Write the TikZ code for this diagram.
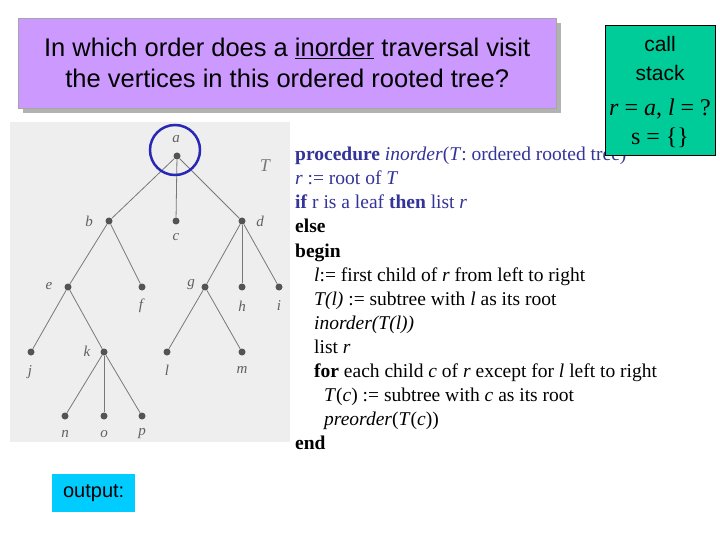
\documentclass[tikz,border=0pt]{standalone}
\usepackage{fontspec}
\setmainfont{Liberation Serif}
\newfontfamily\arial{Liberation Sans}
\newcommand{\myul}[1]{\underline{#1}}
\definecolor{titlebg}{RGB}{204,153,255}
\definecolor{stackbg}{RGB}{0,204,153}
\definecolor{outbg}{RGB}{0,204,255}
\definecolor{codeblue}{RGB}{51,51,153}
\definecolor{ringblue}{RGB}{40,40,180}
\definecolor{treebg}{RGB}{238,238,238}
\definecolor{treeline}{RGB}{120,120,120}
\begin{document}
\begin{tikzpicture}[x=1pt,y=-1pt,
  vtx/.style={circle,fill=treeline!70!black,inner sep=0pt,minimum size=7pt},
  lbl/.style={font=\itshape\fontsize{15}{15}\selectfont,text=treeline!80!black},
  edge/.style={draw=treeline,line width=0.8pt},
  codeline/.style={anchor=base west,inner sep=0pt,font=\fontsize{19.5}{19.5}\selectfont}]
\useasboundingbox (0,0) rectangle (720,540);
\fill[white] (0,0) rectangle (720,540);
% tree background
\fill[treebg] (10,122) rectangle (290,442);
% title box
\fill[gray!60] (23,23) rectangle (561,113);
\node[draw=gray!70,fill=titlebg,minimum width=538,minimum height=90,anchor=north west,inner sep=0] (title) at (18,18) {};
\node[align=center,font=\arial\fontsize{25.5}{31}\selectfont] (tt) at (title.center) {In which order does a \myul{inorder} traversal visit\\the vertices in this ordered rooted tree?};
% tree nodes
\node[vtx] (a) at (177,156) {};
\node[vtx] (b) at (109,221) {};
\node[vtx] (c) at (176,221) {};
\node[vtx] (d) at (242,221) {};
\node[vtx] (e) at (68,287) {};
\node[vtx] (f) at (142,287) {};
\node[vtx] (g) at (205,287) {};
\node[vtx] (h) at (242,287) {};
\node[vtx] (i) at (279,287) {};
\node[vtx] (j) at (31,352) {};
\node[vtx] (k) at (104,352) {};
\node[vtx] (l) at (167,352) {};
\node[vtx] (m) at (242,352) {};
\node[vtx] (n) at (65,416) {};
\node[vtx] (o) at (104,416) {};
\node[vtx] (p) at (142,416) {};
\foreach \u/\v in {a/b,a/c,a/d,b/e,b/f,d/g,d/h,d/i,e/j,e/k,g/l,g/m,k/n,k/o,k/p}
  \draw[edge] (\u) -- (\v);
\node[lbl] (la) at (176,139) {a};
\node[lbl] (lb) at (89,221) {b};
\node[lbl] (lc) at (176,237) {c};
\node[lbl] (ld) at (260,221) {d};
\node[lbl] (le) at (49,286) {e};
\node[lbl] (lf) at (141,306) {f};
\node[lbl] (lg) at (191,285) {g};
\node[lbl] (lh) at (242,306) {h};
\node[lbl] (li) at (279,306) {i};
\node[lbl] (lj) at (30,372) {j};
\node[lbl] (lk) at (87,351) {k};
\node[lbl] (ll) at (167,370) {l};
\node[lbl] (lm) at (242,370) {m};
\node[lbl] (ln) at (65,434) {n};
\node[lbl] (lo) at (104,434) {o};
\node[lbl] (lp) at (142,434) {p};
\node[lbl,font=\itshape\fontsize{18}{18}\selectfont,text=treeline] (lT) at (265,166) {T};
\node[draw=ringblue,line width=2.5pt,circle,minimum size=50pt] (ring) at (175,150) {};
% code
\begin{scope}[text=codeblue]
\node[codeline] (c1) at (295,161) {\textbf{procedure} \textit{inorder}(\textit{T}: ordered rooted tree)};
\node[codeline] (c2) at (295,185) {\textit{r} := root of \textit{T}};
\node[codeline] (c3) at (295,209) {\textbf{if} r is a leaf \textbf{then} list \textit{r}};
\end{scope}
\node[codeline] (c4) at (295,233) {\textbf{else}};
\node[codeline] (c5) at (295,257) {\textbf{begin}};
\node[codeline] (c6) at (314,281) {\textit{l}:= first child of \textit{r} from left to right};
\node[codeline] (c7) at (314,305) {\textit{T(l)} := subtree with \textit{l} as its root};
\node[codeline] (c8) at (314,329) {\textit{inorder(T(l))}};
\node[codeline] (c9) at (314,353) {list \textit{r}};
\node[codeline] (c10) at (314,377) {\textbf{for} each child \textit{c} of \textit{r} except for \textit{l} left to right};
\node[codeline] (c11) at (324,401) {\textit{T}(\textit{c}) := subtree with \textit{c} as its root};
\node[codeline] (c12) at (324,425) {\textit{preorder}(\textit{T}(\textit{c}))};
\node[codeline] (c13) at (295,449) {\textbf{end}};
% call stack
\node[draw=black,fill=stackbg,minimum width=110,minimum height=130,anchor=north west,inner sep=0] (stack) at (605,25) {};
\node[align=center,font=\arial\fontsize{21}{29}\selectfont] (st) at (660,58) {call\\stack};
\node[align=center,font=\fontsize{24}{29}\selectfont] (sv) at (660,123) {\textit{r} = \textit{a}, \textit{l} = ?\\s = \{\}};
% output
\node[fill=outbg,minimum width=83,minimum height=38,anchor=north west,inner sep=0] (out) at (52,474) {};
\node[font=\arial\fontsize{20}{20}\selectfont] (ot) at (out.center) {output:};
\end{tikzpicture}
\end{document}
